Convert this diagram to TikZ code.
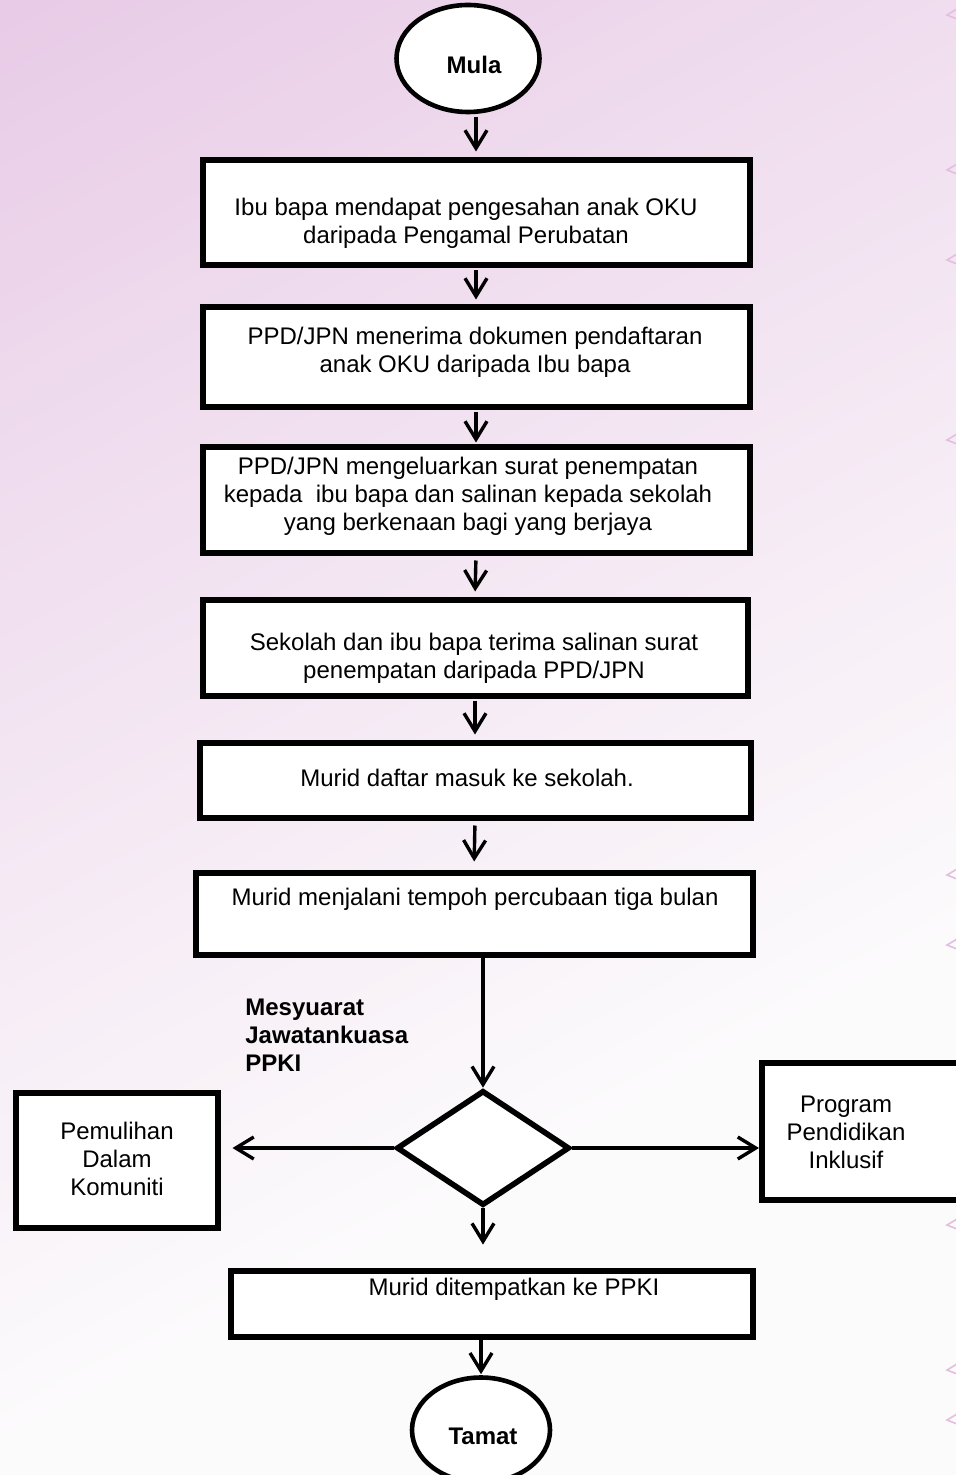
\documentclass[tikz,border=0pt]{standalone}
\usepackage{fontspec}
\setmainfont{Liberation Sans}
\usetikzlibrary{shapes.geometric,arrows.meta,calc}
\definecolor{lilac}{RGB}{225,186,223}
\definecolor{lilacmid}{RGB}{240,222,239}
\definecolor{paper}{RGB}{252,251,252}
\definecolor{ornament}{RGB}{228,190,224}
% background wash: white below, lilac towards the top
\pgfdeclareverticalshading{wash}{100bp}{color(0bp)=(paper); color(38bp)=(paper);
  color(62bp)=(lilacmid); color(88bp)=(lilac); color(100bp)=(lilac)}

\begin{document}
\begin{tikzpicture}[x=0.5pt,y=-0.5pt,
  every node/.style={font=\fontsize{12}{14}\selectfont},
  procbox/.style={draw, line width=3pt, fill=white, inner sep=0pt},
  terminal/.style={draw, ellipse, line width=2.3pt, fill=white, inner sep=0pt},
  decision/.style={draw, diamond, line width=2.8pt, fill=white, inner sep=0pt},
  flow/.style={line width=1.7pt, -{Straight Barb[length=9pt,width=11pt,line width=1.7pt]}},
  txt/.style={align=center, inner sep=0pt},
  boldtxt/.style={txt, font=\fontsize{12}{14}\selectfont\bfseries},
  orn/.style={draw=ornament, line width=0.8pt, line cap=round}
]
% page and background
\useasboundingbox (0,0) rectangle (956,1475);
\clip (0,0) rectangle (956,1475);
\shade[shading=wash, shading angle=28] (-200,-200) rectangle (1156,1675);

% ornaments along the right edge
\foreach \yy in {15,170,260,440,875,945,1125,1185,1225,1370,1420}{
  \draw[orn] (957,\yy-6) -- (947,\yy) -- (957,\yy+4);
}

% terminals
\node[terminal, minimum width=71.5pt, minimum height=53.5pt] (mula) at (468,58.5) {};
\node[boldtxt] (tmula) at (474,65) {Mula};
\node[terminal, minimum width=69pt, minimum height=52.5pt] (tamat) at (481,1430) {};
\node[boldtxt] (ttamat) at (483,1436) {Tamat};

% process boxes
\node[procbox, minimum width=273.5pt, minimum height=52.5pt] (b1) at (476,213) {};
\node[txt] (t1) at (466,223) {Ibu bapa mendapat pengesahan anak OKU\\daripada Pengamal Perubatan};

\node[procbox, minimum width=273.5pt, minimum height=50pt] (b2) at (476,357.5) {};
\node[txt] (t2) at (475,352) {PPD/JPN menerima dokumen pendaftaran\\anak OKU daripada Ibu bapa};

\node[procbox, minimum width=273.5pt, minimum height=52.5pt] (b3) at (476,500) {};
\node[txt] (t3) at (468,496) {PPD/JPN mengeluarkan surat penempatan\\kepada\ \ ibu bapa dan salinan kepada sekolah\\yang berkenaan bagi yang berjaya};

\node[procbox, minimum width=272.5pt, minimum height=48pt] (b4) at (475,647.5) {};
\node[txt] (t4) at (474,658) {Sekolah dan ibu bapa terima salinan surat\\penempatan daripada PPD/JPN};

\node[procbox, minimum width=275.5pt, minimum height=37.5pt] (b5) at (475,780) {};
\node[txt] (t5) at (467,778) {Murid daftar masuk ke sekolah.};

\node[procbox, minimum width=278.5pt, minimum height=41pt] (b6) at (474,913.5) {};
\node[txt] (t6) at (475,899) {Murid menjalani tempoh percubaan tiga bulan};

% decision
\node[boldtxt, anchor=west, align=left] (lbl) at (245,1035) {Mesyuarat\\Jawatankuasa\\PPKI};
\node[decision, minimum width=86.5pt, minimum height=57.5pt] (dia) at (483,1148) {};

\node[procbox, minimum width=101pt, minimum height=67.5pt] (left) at (116.5,1160) {};
\node[txt] (tl) at (117,1159) {Pemulihan\\Dalam\\Komuniti};

\node[procbox, minimum width=115pt, minimum height=68.5pt] (right) at (877,1131.5) {};
\node[txt] (tr) at (846,1132) {Program\\Pendidikan\\Inklusif};

\node[procbox, minimum width=261pt, minimum height=33.4pt] (b7) at (491.5,1304) {};
\node[txt] (t7) at (514,1289) {Murid ditempatkan ke PPKI};

% connectors
\draw[flow, shorten <=1.5pt, shorten >=3pt] (b1.north |- mula.south) -- (b1.north);
\draw[flow, shorten <=1pt, shorten >=2.5pt] (b1.south) -- (b2.north);
\draw[flow, shorten <=1pt, shorten >=1pt] (b2.south) -- (b3.north);
\draw[flow, shorten <=2.5pt, shorten >=2.5pt] (b3.south) -- (b4.north);
\draw[flow, shorten <=1pt, shorten >=2.5pt] (b4.south) -- (b5.north);
\draw[flow, shorten <=2.5pt, shorten >=4pt] (b5.south) -- (b6.north);
\draw[flow] (b6.south -| dia.north) -- (dia.north);
\draw[flow, shorten >=6pt] (dia.west) -- (dia.west -| left.east);
\draw[flow] (dia.east) -- (dia.east -| right.west);
\draw[flow, shorten >=11.5pt] (dia.south) -- (dia.south |- b7.north);
\draw[flow, shorten >=0.5pt] (b7.south -| tamat.north) -- (tamat.north);
\end{tikzpicture}
\end{document}
